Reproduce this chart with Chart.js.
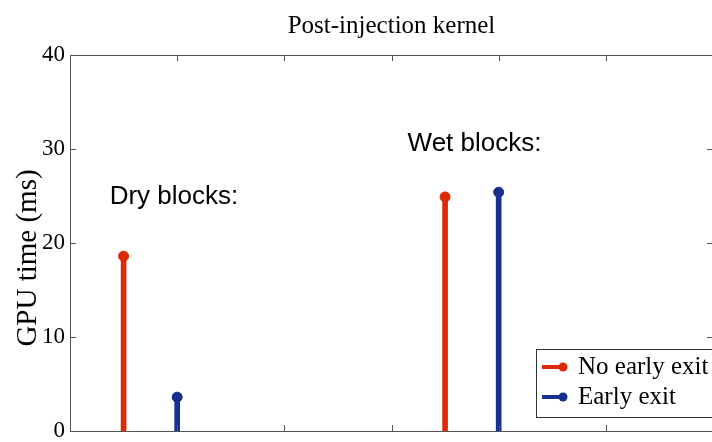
<!DOCTYPE html>
<html>
<head>
<meta charset="utf-8">
<script src="https://cdn.jsdelivr.net/npm/chart.js@4"></script>
<style>
  html, body { margin: 0; padding: 0; background: #fff; overflow: hidden; }
  #wrap { width: 760px; height: 442px; }
</style>
</head>
<body>
<div id="wrap"><canvas id="stemChart" width="760" height="442"></canvas></div>
<script>
const noExitX = [0.5, 3.5];
const noExitY = [18.6, 24.9];
const earlyExitX = [1, 4];
const earlyExitY = [3.6, 25.4];
const xTicks = [0, 1, 2, 3, 4, 5, 6];
const yTicks = [0, 10, 20, 30, 40];
const seriesNames = ['No early exit', 'Early exit'];
const chartTitle = 'Post-injection kernel';
const yTitle = 'GPU time (ms)';
const notes = [
    { text: 'Dry blocks:', x: 0.37, y: 24.9 },
    { text: 'Wet blocks:', x: 3.15, y: 30.5 }
];

const red = '#dc2a06';
const blue = '#16308f';
const serif = '"Liberation Serif", "Times New Roman", serif';
const sans = '"Liberation Sans", Arial, sans-serif';

const pts = (xs, ys) => xs.map((x, i) => ({ x: x, y: ys[i] }));

// frame, inner ticks, titles, notes and legend drawn in MATLAB style
const matlabFrame = {
    id: 'matlabFrame',
    afterDraw(chart) {
        const { ctx, chartArea: a, scales } = chart;
        ctx.save();
        ctx.strokeStyle = '#555';
        ctx.lineWidth = 1;
        ctx.strokeRect(a.left + 0.5, a.top + 0.5, a.right - a.left, a.bottom - a.top);
        ctx.beginPath();
        xTicks.forEach(t => {
            const px = Math.round(scales.x.getPixelForValue(t)) + 0.5;
            ctx.moveTo(px, a.top); ctx.lineTo(px, a.top + 6);
            ctx.moveTo(px, a.bottom); ctx.lineTo(px, a.bottom - 6);
        });
        yTicks.forEach(t => {
            const py = Math.round(scales.y.getPixelForValue(t)) + 0.5;
            ctx.moveTo(a.left, py); ctx.lineTo(a.left + 6, py);
            ctx.moveTo(a.right, py); ctx.lineTo(a.right - 6, py);
        });
        ctx.stroke();

        ctx.fillStyle = '#000';
        ctx.textAlign = 'center';
        ctx.textBaseline = 'alphabetic';
        ctx.font = '25px ' + serif;
        ctx.fillText(chartTitle, (a.left + a.right) / 2, 33);

        ctx.save();
        ctx.translate(28, 258);
        ctx.rotate(-Math.PI / 2);
        ctx.textBaseline = 'middle';
        ctx.font = '29px ' + serif;
        ctx.fillText(yTitle, 0, 0);
        ctx.restore();

        ctx.textAlign = 'left';
        ctx.font = '26px ' + sans;
        ctx.textBaseline = 'middle';
        notes.forEach(n => {
            ctx.fillText(n.text, scales.x.getPixelForValue(n.x), scales.y.getPixelForValue(n.y));
        });

        // legend box
        const lx = 536, ly = 349, lw = 200, lh = 68;
        ctx.fillStyle = '#fff';
        ctx.fillRect(lx, ly, lw, lh);
        ctx.strokeStyle = '#333';
        ctx.lineWidth = 1;
        ctx.strokeRect(lx + 0.5, ly + 0.5, lw, lh);
        [red, blue].forEach((c, i) => {
            const y = ly + 18 + i * 30;
            ctx.strokeStyle = c;
            ctx.fillStyle = c;
            ctx.lineWidth = 4;
            ctx.beginPath();
            ctx.moveTo(542, y); ctx.lineTo(563, y);
            ctx.stroke();
            ctx.beginPath();
            ctx.arc(563, y, 4.5, 0, Math.PI * 2);
            ctx.fill();
            ctx.fillStyle = '#000';
            ctx.font = '25px ' + serif;
            ctx.fillText(seriesNames[i], 578, y);
        });
        ctx.restore();
    }
};

new Chart(document.getElementById('stemChart'), {
    type: 'bar',
    data: {
        datasets: [
            { type: 'bar', label: seriesNames[0], data: pts(noExitX, noExitY), backgroundColor: red, barThickness: 5, grouped: false, order: 2 },
            { type: 'bar', label: seriesNames[1], data: pts(earlyExitX, earlyExitY), backgroundColor: blue, barThickness: 5, grouped: false, order: 2 },
            { type: 'scatter', label: seriesNames[0] + ' marker', data: pts(noExitX, noExitY), backgroundColor: red, borderColor: red, pointRadius: 5, order: 1 },
            { type: 'scatter', label: seriesNames[1] + ' marker', data: pts(earlyExitX, earlyExitY), backgroundColor: blue, borderColor: blue, pointRadius: 5, order: 1 }
        ]
    },
    options: {
        responsive: false,
        animation: false,
        layout: { padding: { left: 0, right: 47, top: 55, bottom: 11 } },
        scales: {
            x: { type: 'linear', min: 0, max: 6, offset: false, display: false },
            y: {
                min: 0, max: 40,
                afterBuildTicks: s => { s.ticks = yTicks.map(v => ({ value: v })); },
                afterFit: s => { s.width = 70; s.paddingTop = 0; s.paddingBottom = 0; },
                grid: { display: false, drawTicks: false },
                border: { display: false },
                ticks: { color: '#000', font: { family: serif, size: 23 }, padding: 5 }
            }
        },
        plugins: {
            legend: { display: false },
            tooltip: { enabled: false },
            title: { display: false }
        }
    },
    plugins: [matlabFrame]
});
</script>
</body>
</html>
